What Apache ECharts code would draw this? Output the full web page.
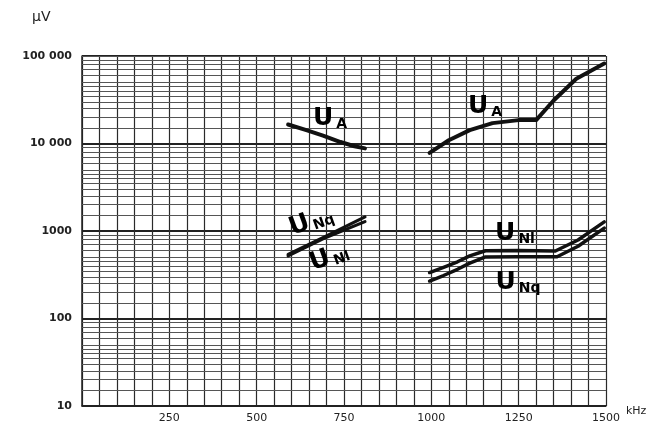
<!DOCTYPE html>
<html>
<head>
<meta charset="utf-8">
<script src="https://cdn.jsdelivr.net/npm/echarts@6/dist/echarts.min.js"></script>
<style>
  html, body { margin: 0; padding: 0; background: #fff; }
  #chart { width: 670px; height: 428px; }
</style>
</head>
<body>
<div id="chart"></div>
<script>
// values: [kHz, µV]
var uaLow  = [[590, 16500], [640, 14300], [690, 12300], [740, 10400], [780, 9300], [810, 8800]];
var uaHigh = [[995, 7800], [1050, 10900], [1110, 14200], [1175, 17100], [1250, 18500], [1300, 18500], [1350, 31000], [1415, 55000], [1495, 82000]];
var unqLow = [[590, 540], [700, 880], [810, 1450]];
var unlLow = [[590, 520], [700, 850], [810, 1280]];
var unlHigh = [[995, 335], [1035, 385], [1075, 445], [1110, 520], [1155, 595], [1250, 600], [1355, 590], [1420, 790], [1495, 1270]];
var unqHigh = [[995, 268], [1035, 310], [1075, 365], [1110, 430], [1155, 505], [1250, 508], [1360, 508], [1420, 670], [1495, 1080]];

var yTicks = [10, 100, 1000, 10000, 100000];
var yTickLabels = ['10', '100', '1000', '10 000', '100 000'];
var xTickStep = 250;
// log paper subdivisions inside every decade
var gridMult = [1.5, 2, 2.5, 3, 3.5, 4, 4.5, 5, 6, 7, 8, 9];

var chart = echarts.init(document.getElementById('chart'));

var minorLines = [];
yTicks.slice(0, 4).forEach(function (d) {
  gridMult.forEach(function (m) { minorLines.push({ yAxis: d * m }); });
});

function curve(data, w) {
  return {
    type: 'line', data: data, symbol: 'none', z: 5,
    lineStyle: { color: '#111', width: w, cap: 'round', join: 'round' }
  };
}

function lab(x, y, s, rot) {
  return {
    type: 'text', x: x, y: y, rotation: (rot || 0) * Math.PI / 180, z: 10,
    style: {
      text: '{u|U}{s|' + s + '}', align: 'center', verticalAlign: 'middle',
      rich: {
        u: { fontFamily: 'DejaVu Sans', fontSize: 25, fontWeight: 'bold', color: '#111', verticalAlign: 'bottom', lineHeight: 26 },
        s: { fontFamily: 'DejaVu Sans', fontSize: 14, fontWeight: 'bold', color: '#111', verticalAlign: 'bottom', lineHeight: 22, padding: [0, 0, 0, 3] }
      }
    }
  };
}

chart.setOption({
  animation: false,
  backgroundColor: '#fff',
  grid: { left: 82, right: 64, top: 56, bottom: 22 },
  xAxis: {
    type: 'value', min: 0, max: 1500, interval: 50,
    axisLine: { show: true, lineStyle: { color: '#222', width: 1.5 } },
    axisTick: { show: false },
    splitLine: { show: true, lineStyle: { color: '#2a2a2a', width: 1.2 } },
    axisLabel: {
      margin: 7, fontFamily: 'DejaVu Sans', fontSize: 11, color: '#222',
      formatter: function (v) { return v > 0 && v % xTickStep === 0 ? String(v) : ''; }
    },
    name: 'kHz', nameLocation: 'end', nameGap: 14,
    nameTextStyle: { fontFamily: 'DejaVu Sans', fontSize: 11, color: '#222', verticalAlign: 'top', padding: [0, 0, 0, 0] }
  },
  yAxis: {
    type: 'log', logBase: 10, min: 10, max: 100000,
    axisLine: { show: true, lineStyle: { color: '#222', width: 1.5 } },
    axisTick: { show: false },
    splitLine: { show: true, lineStyle: { color: '#222', width: 2.2 } },
    axisLabel: {
      margin: 10, fontFamily: 'DejaVu Sans', fontSize: 11, fontWeight: 'bold', color: '#222',
      formatter: function (v) {
        var i = yTicks.indexOf(Math.round(v));
        return i >= 0 ? yTickLabels[i] : '';
      }
    }
  },
  series: [
    {
      type: 'line', data: [], z: 1, silent: true,
      markLine: {
        silent: true, symbol: ['none', 'none'], label: { show: false },
        lineStyle: { type: 'solid', color: '#555', width: 1 },
        data: minorLines.concat([{ yAxis: 100000 }])
      }
    },
    curve(uaLow, 4),
    curve(uaHigh, 4),
    curve(unqLow, 3.2),
    curve(unlLow, 3.2),
    curve(unlHigh, 3.5),
    curve(unqHigh, 3.5)
  ],
  graphic: [
    { type: 'text', x: 32, y: 10, style: { text: 'µV', fontFamily: 'DejaVu Sans', fontSize: 14, fill: '#222' } },
    lab(330, 118, 'A'),
    lab(485, 106, 'A'),
    lab(311, 221, 'Nq', 20),
    lab(329, 257, 'Nl', 20),
    lab(515, 233, 'Nl'),
    lab(518, 282, 'Nq')
  ]
});
</script>
</body>
</html>
